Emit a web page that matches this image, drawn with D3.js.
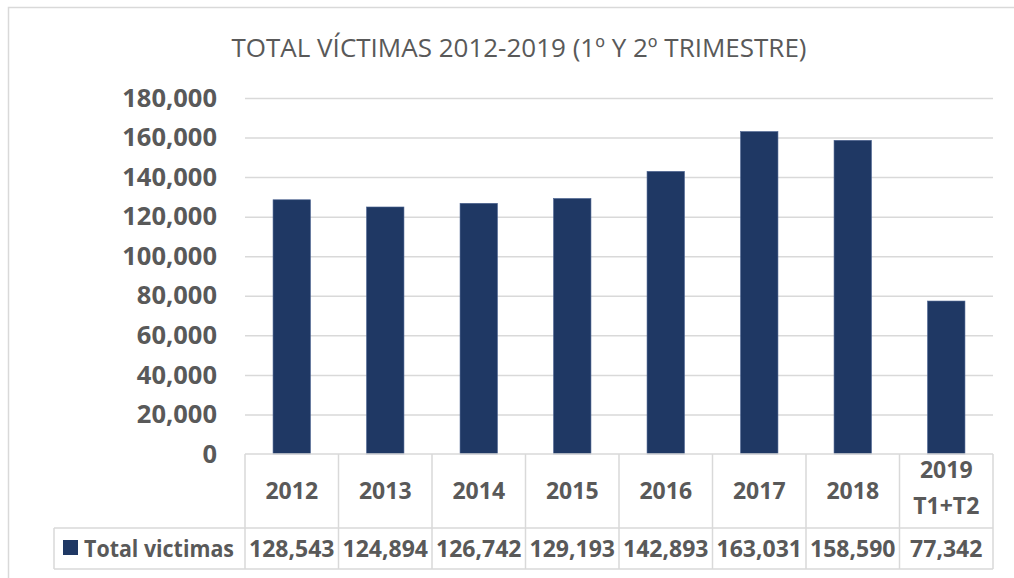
<!DOCTYPE html>
<html>
<head>
<meta charset="utf-8">
<script src="https://cdn.jsdelivr.net/npm/d3@7"></script>
<style>
  body { margin: 0; background: #fff; }
  svg { display: block; }
</style>
</head>
<body>
<div id="chart"></div>
<script>
// data
var categories = ["2012", "2013", "2014", "2015", "2016", "2017", "2018", "2019\nT1+T2"];
var victimas = [128543, 124894, 126742, 129193, 142893, 163031, 158590, 77342];
var yTicks = [0, 20000, 40000, 60000, 80000, 100000, 120000, 140000, 160000, 180000];
var seriesName = "Total victimas";
var titleText = "TOTAL VÍCTIMAS 2012-2019 (1º Y 2º TRIMESTRE)";

var W = 1014, H = 578,
    plot = {left: 245, right: 993, top: 98, bottom: 454},
    rowCat = 528, rowVal = 569, legendLeft = 54;

var textColor = "#595959", gridColor = "#d9d9d9", barColor = "#1f3864";

var svg = d3.select("#chart").append("svg")
  .attr("width", W)
  .attr("height", H);

// outer chart border
svg.append("rect")
  .attr("x", 8.5).attr("y", 7.5)
  .attr("width", 1040).attr("height", 600)
  .attr("fill", "none")
  .attr("stroke", gridColor)
  .attr("stroke-width", 1.5);

svg.append("text")
  .attr("x", 519)
  .attr("y", 57)
  .attr("text-anchor", "middle")
  .attr("textLength", 575)
  .attr("lengthAdjust", "spacingAndGlyphs")
  .style("font-family", "'Open Sans'")
  .style("font-weight", 400)
  .style("font-size", "26px")
  .style("fill", textColor)
  .text(titleText);

var y = d3.scaleLinear()
  .domain([0, 180000])
  .range([plot.bottom, plot.top]);

// columns of the table and bars share the same step
var xCol = d3.scaleBand()
  .domain(categories)
  .range([plot.left, plot.right])
  .padding(0);

var xBar = d3.scaleBand()
  .domain(categories)
  .range([plot.left, plot.right])
  .paddingInner(0.6)
  .paddingOuter(0.3);

// gridlines
svg.append("g")
  .attr("transform", "translate(" + plot.left + ",0)")
  .call(d3.axisLeft(y).tickValues(yTicks.slice(1)).tickSize(-(plot.right - plot.left)).tickFormat(""))
  .call(function(g) { g.select(".domain").remove(); })
  .selectAll("line")
  .attr("stroke", gridColor)
  .attr("stroke-width", 1.5);

// y labels
svg.append("g")
  .attr("transform", "translate(" + plot.left + ",0)")
  .call(d3.axisLeft(y).tickValues(yTicks).tickSize(0).tickPadding(28).tickFormat(d3.format(",")))
  .call(function(g) { g.select(".domain").remove(); })
  .selectAll("text")
  .style("font-family", "'Open Sans'")
  .style("font-weight", 700)
  .style("font-size", "25.5px")
  .style("fill", textColor);

// bars
svg.append("g")
  .selectAll("rect")
  .data(victimas)
  .join("rect")
  .attr("x", function(d, i) { return xBar(categories[i]); })
  .attr("y", function(d) { return y(d); })
  .attr("width", xBar.bandwidth())
  .attr("height", function(d) { return y(0) - y(d); })
  .attr("fill", barColor)
  .attr("stroke", "#4a6290")
  .attr("stroke-width", 0.6);

// data table
var table = svg.append("g")
  .attr("stroke", gridColor)
  .attr("stroke-width", 1.5)
  .attr("fill", "none");

table.append("line").attr("x1", plot.left).attr("x2", plot.right).attr("y1", plot.bottom).attr("y2", plot.bottom);
table.append("line").attr("x1", legendLeft).attr("x2", plot.right).attr("y1", rowCat).attr("y2", rowCat);
table.append("line").attr("x1", legendLeft).attr("x2", plot.right).attr("y1", rowVal).attr("y2", rowVal);
table.append("line").attr("x1", legendLeft).attr("x2", legendLeft).attr("y1", rowCat).attr("y2", rowVal);
table.selectAll("line.col")
  .data(categories.concat(["end"]))
  .join("line")
  .attr("class", "col")
  .attr("x1", function(d, i) { return plot.left + i * xCol.step(); })
  .attr("x2", function(d, i) { return plot.left + i * xCol.step(); })
  .attr("y1", plot.bottom)
  .attr("y2", rowVal);

var cellFont = function(sel) {
  sel.style("font-family", "'Open Sans'")
    .style("font-weight", 700)
    .style("font-size", "23px")
    .style("fill", textColor)
    .attr("text-anchor", "middle");
};

// category labels, may be two lines
svg.append("g")
  .selectAll("text")
  .data(categories)
  .join("text")
  .attr("x", function(d) { return xCol(d) + xCol.bandwidth() / 2; })
  .attr("y", function(d) { return d.indexOf("\n") >= 0 ? 478 : 499; })
  .call(cellFont)
  .each(function(d) {
    var parts = d.split("\n");
    var t = d3.select(this);
    parts.forEach(function(p, j) {
      t.append("tspan")
        .attr("x", xCol(d) + xCol.bandwidth() / 2)
        .attr("dy", j == 0 ? 0 : 36)
        .text(p);
    });
  });

// values row
svg.append("g")
  .selectAll("text")
  .data(victimas)
  .join("text")
  .attr("x", function(d, i) { return xCol(categories[i]) + xCol.bandwidth() / 2; })
  .attr("y", 557)
  .call(cellFont)
  .text(d3.format(","));

// legend cell
svg.append("rect")
  .attr("x", 63).attr("y", 540)
  .attr("width", 15).attr("height", 15)
  .attr("fill", barColor);

svg.append("text")
  .attr("x", 84)
  .attr("y", 557)
  .call(cellFont)
  .attr("text-anchor", "start")
  .attr("textLength", 150)
  .attr("lengthAdjust", "spacingAndGlyphs")
  .text(seriesName);
</script>
</body>
</html>
